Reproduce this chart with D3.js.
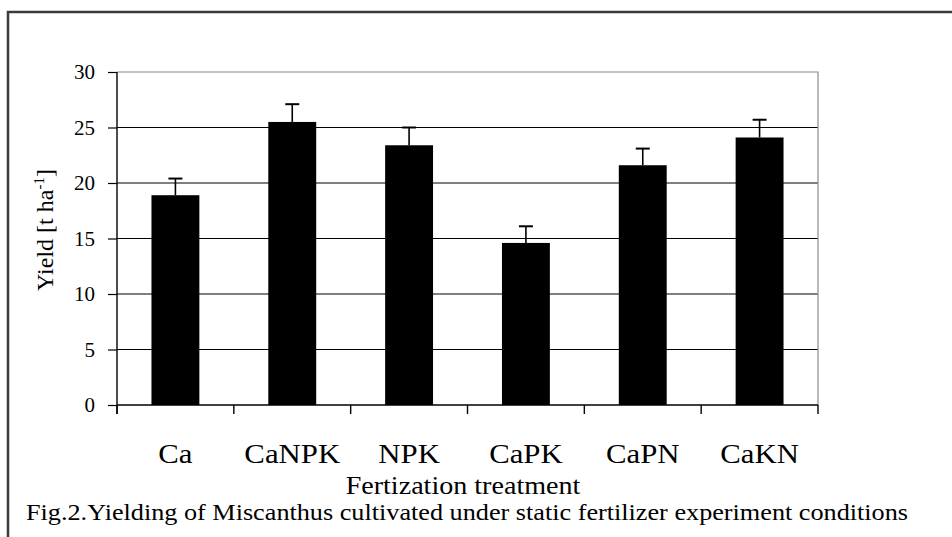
<!DOCTYPE html>
<html>
<head>
<meta charset="utf-8">
<script src="https://cdn.jsdelivr.net/npm/d3@7.9.0/dist/d3.min.js"></script>
<style>
  body { margin: 0; background: #fff; }
  svg { display: block; font-family: 'Liberation Serif', 'Times New Roman', serif; }
</style>
</head>
<body>
<div id="chart"></div>
<script>
const categories = ['Ca', 'CaNPK', 'NPK', 'CaPK', 'CaPN', 'CaKN'];
const yields = [18.9, 25.5, 23.4, 14.6, 21.6, 24.1];
const errors = [1.5, 1.6, 1.6, 1.5, 1.5, 1.6];
const yTicks = [0, 5, 10, 15, 20, 25, 30];

const width = 952;
const height = 537;
const margin = { top: 72, right: 134, bottom: 132, left: 117 };

const data = categories.map((c, i) => ({ cat: c, value: yields[i], err: errors[i] }));

const svg = d3.select('#chart')
  .append('svg')
  .attr('width', width)
  .attr('height', height);

// outer frame (top + left edges visible)
svg.append('path')
  .attr('d', `M8,${height} V12 H${width}`)
  .attr('fill', 'none')
  .attr('stroke', '#3a3a3a')
  .attr('stroke-width', 2.5);

const x = d3.scaleBand()
  .domain(categories)
  .range([margin.left, width - margin.right]);

const y = d3.scaleLinear()
  .domain([0, 30])
  .range([height - margin.bottom, margin.top]);

const x0 = margin.left, x1 = width - margin.right;
const yb = y(0), yt = y(30);

// stretch text a bit wider, the original glyphs are wide bitmap ones
function widen(sel, k) {
  sel.each(function () {
    const w = this.getComputedTextLength();
    d3.select(this).attr('textLength', w * k).attr('lengthAdjust', 'spacingAndGlyphs');
  });
}

// gridlines
svg.append('g')
  .selectAll('line')
  .data(yTicks.filter((d) => d > 0 && d < 30))
  .join('line')
  .attr('x1', x0).attr('x2', x1)
  .attr('y1', (d) => y(d)).attr('y2', (d) => y(d))
  .attr('stroke', '#000')
  .attr('stroke-width', 1.2);

// plot area border (top, right)
svg.append('path')
  .attr('d', `M${x0},${yt} H${x1} V${yb}`)
  .attr('fill', 'none')
  .attr('stroke', '#8a8a8a')
  .attr('stroke-width', 1.2);

// bars
const barW = x.bandwidth() * 0.41;
svg.append('g')
  .selectAll('rect')
  .data(data)
  .join('rect')
  .attr('x', (d) => x(d.cat) + x.bandwidth() / 2 - barW / 2)
  .attr('y', (d) => y(d.value))
  .attr('width', barW)
  .attr('height', (d) => y(0) - y(d.value))
  .attr('fill', '#000');

// error bars
const eb = svg.append('g').attr('stroke', '#000').attr('stroke-width', 1.6);
eb.selectAll('line.v')
  .data(data)
  .join('line')
  .attr('class', 'v')
  .attr('x1', (d) => x(d.cat) + x.bandwidth() / 2)
  .attr('x2', (d) => x(d.cat) + x.bandwidth() / 2)
  .attr('y1', (d) => y(d.value))
  .attr('y2', (d) => y(d.value + d.err));
eb.selectAll('line.c')
  .data(data)
  .join('line')
  .attr('class', 'c')
  .attr('x1', (d) => x(d.cat) + x.bandwidth() / 2 - 7)
  .attr('x2', (d) => x(d.cat) + x.bandwidth() / 2 + 7)
  .attr('y1', (d) => y(d.value + d.err))
  .attr('y2', (d) => y(d.value + d.err))
  .attr('stroke-width', 2);

// y axis
const yAxis = svg.append('g')
  .attr('transform', `translate(${x0},0)`)
  .call(d3.axisLeft(y).tickValues(yTicks).tickSize(9).tickPadding(13).tickSizeOuter(0));
yAxis.select('.domain').remove();
yAxis.selectAll('line').attr('stroke', '#000').attr('stroke-width', 1.2);
yAxis.selectAll('text')
  .attr('font-family', 'Liberation Serif')
  .attr('font-size', 21)
  .attr('fill', '#000');
svg.append('line')
  .attr('x1', x0).attr('x2', x0)
  .attr('y1', yt).attr('y2', yb + 9)
  .attr('stroke', '#000').attr('stroke-width', 1.4);

// x axis baseline and category boundary ticks
svg.append('line')
  .attr('x1', x0).attr('x2', x1)
  .attr('y1', yb).attr('y2', yb)
  .attr('stroke', '#000').attr('stroke-width', 1.4);
const bounds = categories.map((c) => x(c)).concat([x1]);
svg.append('g')
  .selectAll('line')
  .data(bounds)
  .join('line')
  .attr('x1', (d) => d).attr('x2', (d) => d)
  .attr('y1', yb).attr('y2', yb + 9)
  .attr('stroke', '#000').attr('stroke-width', 1.4);

// category labels
svg.append('g')
  .selectAll('text')
  .data(categories)
  .join('text')
  .attr('x', (d) => x(d) + x.bandwidth() / 2)
  .attr('y', 463)
  .attr('text-anchor', 'middle')
  .attr('font-size', 27)
  .text((d) => d)
  .call(widen, 1.14);

// x axis title
svg.append('text')
  .attr('x', 463)
  .attr('y', 494)
  .attr('text-anchor', 'middle')
  .attr('font-size', 26)
  .text('Fertization treatment')
  .call(widen, 1.08);

// y axis title
const yl = svg.append('text')
  .attr('transform', 'translate(53,230) rotate(-90)')
  .attr('text-anchor', 'middle')
  .attr('font-size', 24);
yl.append('tspan').text('Yield [t ha');
yl.append('tspan').attr('dy', -9).attr('font-size', 15).text('-1');
yl.append('tspan').attr('dy', 9).text(']');

// caption
svg.append('text')
  .attr('x', 26)
  .attr('y', 520)
  .attr('font-size', 23)
  .text('Fig.2.Yielding of Miscanthus cultivated under static fertilizer experiment conditions')
  .attr('textLength', 882)
  .attr('lengthAdjust', 'spacingAndGlyphs');
</script>
</body>
</html>
